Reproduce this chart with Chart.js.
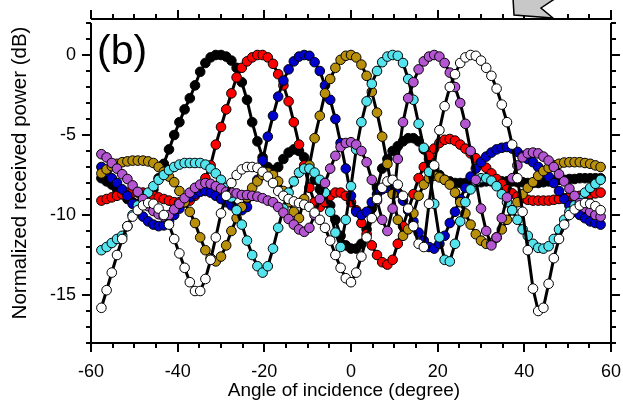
<!DOCTYPE html>
<html>
<head>
<meta charset="utf-8">
<script src="https://cdn.jsdelivr.net/npm/chart.js@4"></script>
<style>
  html, body { margin: 0; padding: 0; background: #fff; }
</style>
</head>
<body>
<canvas id="c" width="623" height="404"></canvas>
<script>
// angle of incidence (degree)
const angles = [
  -57.6, -56.4, -55.2, -54, -52.8, -51.6, -50.4, -49.2, -48, -46.8,
  -45.6, -44.4, -43.2, -42, -40.8, -39.6, -38.4, -37.2, -36, -34.8,
  -33.6, -32.4, -31.2, -30, -28.8, -27.6, -26.4, -25.2, -24, -22.8,
  -21.6, -20.4, -19.2, -18, -16.8, -15.6, -14.4, -13.2, -12, -10.8,
  -9.6, -8.4, -7.2, -6, -4.8, -3.6, -2.4, -1.2, 0, 1.2,
  2.4, 3.6, 4.8, 6, 7.2, 8.4, 9.6, 10.8, 12, 13.2,
  14.4, 15.6, 16.8, 18, 19.2, 20.4, 21.6, 22.8, 24, 25.2,
  26.4, 27.6, 28.8, 30, 31.2, 32.4, 33.6, 34.8, 36, 37.2,
  38.4, 39.6, 40.8, 42, 43.2, 44.4, 45.6, 46.8, 48, 49.2,
  50.4, 51.6, 52.8, 54, 55.2, 56.4, 57.6
];

// normalized received power (dB), one list per beam
const blackPts = [
  -7.7, -7.9, -8.1, -8.4, -8.7, -9.0, -9.2, -9.3, -9.2, -8.9,
  -8.4, -7.7, -6.8, -5.9, -5.0, -4.2, -3.4, -2.7, -1.9, -1.05,
  -0.5, -0.15, 0, 0, -0.1, -0.35, -0.8, -1.7, -2.8, -4.2,
  -5.4, -6.4, -7.0, -7.2, -7.0, -6.5, -6.1, -5.9, -6.0, -6.4,
  -7.1, -7.8, -8.4, -8.9, -9.4, -10.3, -11.3, -11.9, -12.1, -12.1,
  -11.8, -10.9, -9.6, -8.3, -7.1, -6.5, -6.0, -5.7, -5.4, -5.2,
  -5.2, -5.4, -5.9, -6.5, -7.1, -7.5, -7.8, -7.9, -8.0, -8.0,
  -8.0, -8.0, -7.95, -7.95, -7.9, -7.9, -7.9, -7.9, -7.9, -7.9,
  -7.95, -7.95, -8.0, -8.0, -8.0, -7.95, -7.9, -7.85, -7.8, -7.8,
  -7.75, -7.75, -7.7, -7.7, -7.7, -7.7, -7.7
];
const redPts = [
  -9.1, -9.0, -8.9, -8.8, -8.7, -8.6, -8.6, -8.6, -8.6, -8.7,
  -8.8, -8.9, -9.0, -9.1, -9.2, -9.2, -9.2, -9.1, -8.8, -8.3,
  -7.7, -6.9, -5.6, -4.5, -3.4, -2.4, -1.4, -0.8, -0.4, -0.15,
  0, 0, -0.15, -0.55, -1.2, -1.9, -2.9, -4.2, -5.6, -6.9,
  -8.3, -9.2, -9.5, -9.2, -8.8, -8.6, -8.6, -8.8, -9.2, -9.7,
  -10.5, -11.2, -11.9, -12.5, -12.95, -13.1, -12.8, -11.8, -10.7, -9.7,
  -8.7, -7.7, -7.0, -6.3, -5.85, -5.5, -5.3, -5.25, -5.35, -5.6,
  -5.85, -6.15, -6.45, -6.75, -7.05, -7.4, -7.75, -8.05, -8.4, -8.65,
  -8.85, -8.95, -9.05, -9.1, -9.1, -9.1, -9.1, -9.05, -9.0, -8.95,
  -8.9, -8.85, -8.8, -8.75, -8.7, -8.65, -8.6
];
const bluePts = [
  -7.0, -7.3, -7.7, -8.0, -8.4, -8.8, -9.3, -9.8, -10.1, -10.4,
  -10.6, -10.7, -10.65, -10.4, -10.0, -9.6, -9.2, -8.9, -8.7, -8.55,
  -8.5, -8.6, -8.8, -9.0, -9.2, -9.4, -9.6, -9.7, -9.5, -8.8,
  -7.8, -6.6, -5.1, -3.8, -2.6, -1.6, -0.9, -0.4, -0.1, 0,
  -0.05, -0.45, -1.0, -1.9, -2.8, -4.0, -5.5, -7.1, -8.8, -9.8,
  -10.0, -9.8, -9.2, -8.7, -8.4, -8.3, -8.35, -8.6, -9.1, -9.7,
  -10.4, -11.1, -11.6, -12.0, -12.1, -11.8, -11.3, -10.5, -9.8, -9.0,
  -8.3, -7.6, -7.1, -6.7, -6.35, -6.1, -5.9, -5.8, -5.75, -5.85,
  -6.05, -6.3, -6.5, -6.7, -7.0, -7.3, -7.6, -8.0, -8.5, -9.0,
  -9.4, -9.8, -10.0, -10.2, -10.4, -10.5, -10.6
];
const olivePts = [
  -7.4, -7.15, -6.95, -6.8, -6.7, -6.65, -6.6, -6.6, -6.6, -6.65,
  -6.75, -7.0, -7.3, -7.6, -7.95, -8.5, -9.2, -9.8, -10.5, -11.4,
  -12.2, -12.7, -12.9, -12.6, -11.9, -11.0, -10.2, -9.5, -8.9, -8.3,
  -7.9, -7.5, -7.35, -7.5, -7.9, -8.5, -9.2, -9.8, -10.2, -9.0,
  -6.9, -5.2, -3.8, -2.4, -1.5, -0.8, -0.3, -0.05, 0, -0.15,
  -0.6, -1.3, -2.3, -3.6, -5.1, -6.8, -8.7, -10.3, -11.3, -10.9,
  -9.9, -8.8, -8.1, -7.7, -7.55, -7.65, -7.8, -8.1, -8.6, -9.2,
  -9.9, -10.6, -11.2, -11.6, -11.8, -11.75, -11.4, -10.9, -10.3, -9.7,
  -9.2, -8.7, -8.3, -7.95, -7.55, -7.25, -7.05, -6.9, -6.8, -6.72,
  -6.7, -6.7, -6.7, -6.75, -6.8, -6.9, -7.0
];
const cyanPts = [
  -12.2, -12.0, -11.75, -11.5, -11.3, -10.7, -10.0, -9.4, -8.9, -8.6,
  -8.2, -7.8, -7.5, -7.2, -7.0, -6.85, -6.75, -6.75, -6.75, -6.75,
  -6.85, -7.1, -7.4, -7.8, -8.3, -8.9, -9.7, -10.6, -11.6, -12.5,
  -13.2, -13.6, -13.2, -12.1, -10.8, -9.6, -8.6, -7.9, -7.35, -7.1,
  -7.1, -7.35, -7.8, -8.6, -9.8, -11.1, -12.0, -10.3, -8.2, -5.9,
  -4.2, -2.9, -1.8, -1.0, -0.45, -0.1, 0, -0.05, -0.5, -1.5,
  -2.8, -4.3, -5.8, -7.3, -9.3, -11.4, -12.8, -12.9, -11.8, -10.4,
  -9.2, -8.4, -7.9, -7.7, -7.7, -7.85, -8.2, -8.7, -9.2, -9.7,
  -10.3, -10.9, -11.3, -11.8, -12.05, -12.1, -11.95, -11.5, -10.9, -10.3,
  -9.8, -9.4, -9.0, -8.6, -8.3, -8.05, -7.8
];
const purplePts = [
  -6.2, -6.4, -6.75, -7.1, -7.45, -7.75, -8.15, -8.55, -9.0, -9.45,
  -9.75, -9.95, -10.1, -10.0, -9.65, -9.3, -8.95, -8.6, -8.3, -8.1,
  -8.0, -8.05, -8.2, -8.35, -8.55, -8.6, -8.65, -8.75, -8.75, -8.8,
  -8.85, -8.95, -9.1, -9.2, -9.5, -9.85, -10.25, -10.6, -10.9, -11.05,
  -10.8, -10.0, -9.0, -8.0, -7.1, -6.3, -5.75, -5.5, -5.45, -5.6,
  -6.0, -6.7, -7.8, -9.1, -10.3, -11.0, -9.6, -6.5, -4.2, -2.7,
  -1.7, -0.9, -0.4, -0.1, 0, -0.1, -0.5, -1.1, -2.0, -3.0,
  -4.3, -6.0, -7.8, -9.6, -11.0, -11.9, -11.4, -10.2, -8.9, -7.7,
  -6.9, -6.4, -6.15, -6.1, -6.15, -6.35, -6.6, -7.0, -7.45, -7.9,
  -8.35, -8.8, -9.25, -9.55, -9.8, -10.0, -10.1
];
const whitePts = [
  -15.8, -14.7, -13.6, -12.5, -11.5, -10.7, -10.1, -9.7, -9.4, -9.25,
  -9.3, -9.6, -10.0, -10.6, -11.5, -12.4, -13.3, -14.2, -14.75, -14.75,
  -14.0, -12.8, -11.4, -9.9, -8.8, -8.0, -7.5, -7.15, -7.0, -7.0,
  -7.05, -7.3, -7.6, -8.0, -8.5, -8.8, -9.0, -9.15, -9.25, -9.35,
  -9.5, -9.85, -10.3, -10.8, -11.6, -12.5, -13.3, -13.95, -14.2, -13.6,
  -12.6, -11.4, -10.2, -9.0, -8.3, -7.9, -7.8, -8.1, -8.8, -9.6,
  -10.7, -11.8, -12.0, -9.3, -6.9, -4.7, -3.2, -2.0, -1.2, -0.5,
  -0.15, 0, -0.05, -0.35, -0.8, -1.3, -2.1, -3.1, -4.2, -5.6,
  -7.7, -9.8, -12.2, -14.6, -16.0, -15.8, -14.3, -12.7, -11.5, -10.6,
  -10.0, -9.65, -9.4, -9.25, -9.3, -9.45, -9.7
];

const xTicks = [-60, -40, -20, 0, 20, 40, 60];
const yTicks = [-15, -10, -5, 0];

const series = [
  { pts: blackPts, color: '#000000' },
  { pts: redPts, color: '#ff0000' },
  { pts: bluePts, color: '#0000cd' },
  { pts: olivePts, color: '#b8900c' },
  { pts: cyanPts, color: '#55e3ee' },
  { pts: purplePts, color: '#b455d2' },
  { pts: whitePts, color: '#ffffff' }
];

const FONT = '"Liberation Sans", Arial, sans-serif';

// frame with outside ticks on all four sides, axis titles and the panel label
const framePlugin = {
  id: 'frame',
  afterDraw(chart) {
    const ctx = chart.ctx;
    const { left, right, top, bottom } = chart.chartArea;
    const xs = chart.scales.x, ys = chart.scales.y;
    ctx.save();
    ctx.strokeStyle = '#000';
    ctx.lineWidth = 2;
    ctx.beginPath();
    ctx.moveTo(left, top); ctx.lineTo(right + 1, top);
    ctx.moveTo(left, bottom); ctx.lineTo(right + 1, bottom);
    ctx.moveTo(left, top + 4); ctx.lineTo(left, bottom);
    ctx.moveTo(right, top + 4); ctx.lineTo(right, bottom);
    for (let v = -60; v <= 60; v += 5) {
      const px = Math.round(xs.getPixelForValue(v));
      const len = v % 20 === 0 ? 9 : 5;
      ctx.moveTo(px, bottom); ctx.lineTo(px, bottom + len);
      ctx.moveTo(px, top); ctx.lineTo(px, top - len);
    }
    for (let v = -18; v <= 2; v += 1) {
      const py = Math.round(ys.getPixelForValue(v));
      const len = v % 5 === 0 ? 9 : 5;
      ctx.moveTo(left, py); ctx.lineTo(left - len, py);
      ctx.moveTo(right, py); ctx.lineTo(right + len, py);
    }
    ctx.stroke();

    ctx.fillStyle = '#000';
    ctx.textAlign = 'center';
    ctx.textBaseline = 'middle';
    ctx.font = '19px ' + FONT;
    ctx.fillText('Angle of incidence (degree)', 344, 391);
    ctx.save();
    ctx.translate(20, 173);
    ctx.rotate(-Math.PI / 2);
    ctx.font = '20.5px ' + FONT;
    ctx.fillText('Normalized received power (dB)', 0, 0);
    ctx.restore();

    // panel label
    ctx.textAlign = 'left';
    ctx.textBaseline = 'alphabetic';
    ctx.font = '41px ' + FONT;
    ctx.fillText('(b)', 97, 64);

    // grey arrow tail poking in from above
    ctx.beginPath();
    ctx.moveTo(513, -2);
    ctx.lineTo(514, 15);
    ctx.lineTo(553, 18);
    ctx.lineTo(541, 8);
    ctx.lineTo(556, -2);
    ctx.closePath();
    ctx.fillStyle = '#c8c8c8';
    ctx.fill();
    ctx.lineWidth = 1.5;
    ctx.stroke();
    ctx.restore();
  }
};

new Chart(document.getElementById('c'), {
  type: 'line',
  data: {
    datasets: series.map((s, i) => ({
      data: angles.map((a, k) => ({ x: a, y: s.pts[k] })),
      order: series.length - i,
      borderColor: '#000',
      borderWidth: 3,
      backgroundColor: s.color,
      pointBackgroundColor: s.color,
      pointBorderColor: '#000',
      pointBorderWidth: 1,
      pointRadius: 4.8,
      tension: 0,
      fill: false
    }))
  },
  options: {
    responsive: false,
    animation: false,
    devicePixelRatio: 1,
    layout: { padding: { top: 19, right: 12, left: 0, bottom: 0 } },
    plugins: { legend: { display: false }, tooltip: { enabled: false } },
    scales: {
      x: {
        type: 'linear',
        min: -60,
        max: 60,
        afterFit(s) { s.height = 61; s.paddingLeft = 0; s.paddingRight = 0; },
        afterBuildTicks(s) { s.ticks = xTicks.map(v => ({ value: v })); },
        grid: { display: false, drawTicks: false },
        border: { display: false },
        ticks: { color: '#000', font: { family: FONT, size: 18 }, padding: 18, maxRotation: 0, autoSkip: false }
      },
      y: {
        type: 'linear',
        min: -18,
        max: 2.25,
        afterFit(s) { s.width = 91; s.paddingTop = 0; s.paddingBottom = 0; },
        afterBuildTicks(s) { s.ticks = yTicks.map(v => ({ value: v })); },
        grid: { display: false, drawTicks: false },
        border: { display: false },
        ticks: { color: '#000', font: { family: FONT, size: 18 }, padding: 15 }
      }
    }
  },
  plugins: [framePlugin]
});
</script>
</body>
</html>
